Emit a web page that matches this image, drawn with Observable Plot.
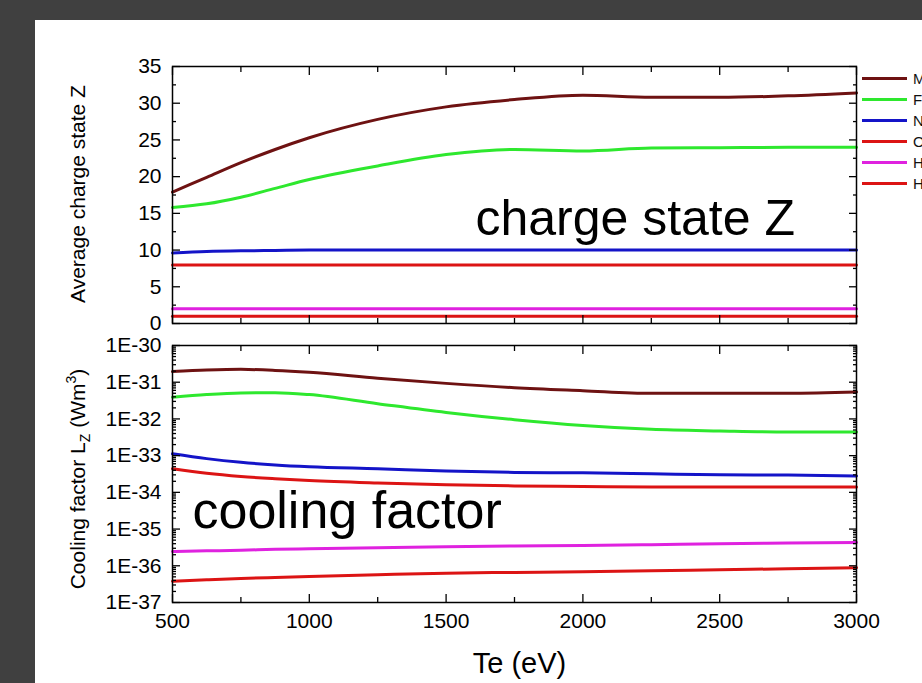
<!DOCTYPE html>
<html><head><meta charset="utf-8">
<script src="https://cdn.jsdelivr.net/npm/d3@7"></script>
<script src="https://cdn.jsdelivr.net/npm/@observablehq/plot@0.6"></script>
<style>
html,body{margin:0;padding:0;}
body{width:922px;height:683px;overflow:hidden;position:relative;background:#404040;font-family:"Liberation Sans",Arial,sans-serif;}
#panel{position:absolute;left:35px;top:20px;width:887px;height:663px;background:#fff;}
#top{position:absolute;left:0;top:40px;}
#bottom{position:absolute;left:0;top:330px;}
#legend{position:absolute;left:862px;top:68px;}
.row{height:21px;display:flex;align-items:center;white-space:nowrap;}
.sw{width:45px;height:3px;margin-right:6px;flex:none;}
.lab{font-size:15px;color:#111;}
</style></head>
<body>
<div id="panel"></div>
<div id="top"></div>
<div id="bottom"></div>
<div id="legend"></div>
<script>
// ---- data ----
const temps = [500, 625, 750, 875, 1000, 1250, 1500, 1750, 2000, 2250, 2500, 2750, 3000];
const species = ["Mo", "Fe", "Ne", "O", "He", "H"];
const colors = ["#6e1212", "#2ee82e", "#1414c8", "#dc1414", "#df22df", "#dc1414"];

// Average charge state Z
const zMo = [17.9, 19.9, 21.9, 23.7, 25.3, 27.8, 29.5, 30.5, 31.1, 30.8, 30.8, 31.0, 31.4];
const zFe = [15.8, 16.3, 17.2, 18.4, 19.6, 21.45, 23.0, 23.7, 23.5, 23.9, 23.95, 24.0, 24.0];
const zNe = [9.6, 9.8, 9.9, 9.95, 10.0, 10.0, 10.0, 10.0, 10.0, 10.0, 10.0, 10.0, 10.0];
const zO  = [7.95, 7.95, 7.95, 7.95, 7.95, 7.95, 7.95, 7.95, 7.95, 7.95, 7.95, 7.95, 7.95];
const zHe = [2.0, 2.0, 2.0, 2.0, 2.0, 2.0, 2.0, 2.0, 2.0, 2.0, 2.0, 2.0, 2.0];
const zH  = [1.0, 1.0, 1.0, 1.0, 1.0, 1.0, 1.0, 1.0, 1.0, 1.0, 1.0, 1.0, 1.0];

// Cooling factor Lz (W m^3)
const lzMo = [1.95e-31, 2.14e-31, 2.24e-31, 2.1e-31, 1.86e-31, 1.29e-31, 9.3e-32, 7.1e-32, 5.9e-32, 5.0e-32, 5.0e-32, 5.0e-32, 5.4e-32];
const lzFe = [3.9e-32, 4.6e-32, 5.1e-32, 5.2e-32, 4.6e-32, 2.6e-32, 1.5e-32, 9.5e-33, 6.6e-33, 5.2e-33, 4.7e-33, 4.4e-33, 4.4e-33];
const lzNe = [1.12e-33, 8.3e-34, 6.6e-34, 5.6e-34, 5.0e-34, 4.4e-34, 3.8e-34, 3.5e-34, 3.4e-34, 3.2e-34, 3.0e-34, 2.95e-34, 2.8e-34];
const lzO  = [4.4e-34, 3.3e-34, 2.7e-34, 2.35e-34, 2.1e-34, 1.8e-34, 1.6e-34, 1.5e-34, 1.45e-34, 1.4e-34, 1.4e-34, 1.4e-34, 1.4e-34];
const lzHe = [2.45e-36, 2.55e-36, 2.65e-36, 2.8e-36, 2.9e-36, 3.1e-36, 3.3e-36, 3.45e-36, 3.55e-36, 3.75e-36, 4.0e-36, 4.15e-36, 4.3e-36];
const lzH  = [3.8e-37, 4.15e-37, 4.5e-37, 4.8e-37, 5.1e-37, 5.7e-37, 6.3e-37, 6.6e-37, 6.9e-37, 7.3e-37, 7.8e-37, 8.3e-37, 8.9e-37];

// ticks / labels
const xTicks = [500, 1000, 1500, 2000, 2500, 3000];
const xMinorTicks = [750, 1250, 1750, 2250, 2750];
const zTicks = [0, 5, 10, 15, 20, 25, 30, 35];
const zMinorTicks = [2.5, 7.5, 12.5, 17.5, 22.5, 27.5, 32.5];
const lzTickLabels = ["1E-37", "1E-36", "1E-35", "1E-34", "1E-33", "1E-32", "1E-31", "1E-30"];
const xTitle = "Te (eV)";
const zTitle = "Average charge state Z";
const lzTitle = "Cooling factor LZ (Wm3)";
const zNote = [{t: 1607, v: 12.0, text: "charge state Z"}];
const lzNote = [{t: 573, v: 1.1e-35, text: "cooling factor"}];

// ---- build tables ----
const zSeries = [zMo, zFe, zNe, zO, zHe, zH];
const lzSeries = [lzMo, lzFe, lzNe, lzO, lzHe, lzH];
const rows = species.flatMap((s, i) => temps.map((t, j) => ({s, t, z: zSeries[i][j], lz: lzSeries[i][j]})));
const lzTicks = lzTickLabels.map(Number);
const lzMinorTicks = [];
for (let k = 0; k < lzTicks.length - 1; k++) for (let m = 2; m <= 9; m++) lzMinorTicks.push(m * lzTicks[k]);

const font = "'Liberation Sans', Arial, sans-serif";
const baseStyle = {background: "transparent", fontFamily: font, fontSize: "21px", color: "#000", overflow: "visible"};
const colorScale = {domain: species, range: colors};

function frameTicks(yMajor, yMinor) {
  const o = {fill: "none", label: null, strokeWidth: 1.3};
  return [
    Plot.axisY(yMajor, {anchor: "left", tickSize: -8, ...o}),
    Plot.axisY(yMinor, {anchor: "left", tickSize: -4, ...o}),
    Plot.axisY(yMajor, {anchor: "right", tickSize: -8, ...o}),
    Plot.axisY(yMinor, {anchor: "right", tickSize: -4, ...o}),
    Plot.axisX(xTicks, {anchor: "top", tickSize: -8, ...o}),
    Plot.axisX(xMinorTicks, {anchor: "top", tickSize: -5, ...o}),
    Plot.axisX(xTicks, {anchor: "bottom", tickSize: -8, ...o}),
    Plot.axisX(xMinorTicks, {anchor: "bottom", tickSize: -5, ...o})
  ];
}

const topPlot = Plot.plot({
  width: 922, height: 293,
  marginLeft: 172, marginRight: 66, marginTop: 26, marginBottom: 10,
  style: baseStyle,
  x: {domain: [500, 3000]},
  y: {domain: [0, 35]},
  color: colorScale,
  marks: [
    Plot.line(rows, {x: "t", y: "z", z: "s", stroke: "s", strokeWidth: 3, curve: "monotone-x"}),
    Plot.frame({stroke: "#000", strokeWidth: 1.5}),
    ...frameTicks(zTicks, zMinorTicks),
    Plot.axisY(zTicks, {anchor: "left", tickSize: 0, tickPadding: 11, label: null, fontSize: 21}),
    Plot.text([zTitle], {text: d => d, frameAnchor: "left", textAnchor: "middle", rotate: -90, dx: -94, dy: -1, fontSize: 21}),
    Plot.text(zNote, {x: "t", y: "v", text: "text", textAnchor: "start", lineAnchor: "bottom", fontSize: 50})
  ]
});

const bottomPlot = Plot.plot({
  width: 922, height: 353,
  marginLeft: 172, marginRight: 66, marginTop: 15, marginBottom: 81,
  style: baseStyle,
  x: {domain: [500, 3000]},
  y: {type: "log", domain: [1e-37, 1e-30]},
  color: colorScale,
  marks: [
    Plot.line(rows, {x: "t", y: "lz", z: "s", stroke: "s", strokeWidth: 3, curve: "monotone-x"}),
    Plot.frame({stroke: "#000", strokeWidth: 1.5}),
    ...frameTicks(lzTicks, lzMinorTicks),
    Plot.axisY(lzTicks, {anchor: "left", tickSize: 0, tickPadding: 11, label: null, fontSize: 21,
      tickFormat: d => lzTickLabels[lzTicks.indexOf(d)]}),
    Plot.axisX(xTicks, {anchor: "bottom", tickSize: 0, tickPadding: 11, label: null, fontSize: 21, tickFormat: d => String(d)}),
    Plot.text([xTitle], {text: d => d, frameAnchor: "bottom", lineAnchor: "bottom", dx: 5, dy: 70, fontSize: 29}),
    Plot.text([lzTitle], {text: d => d, frameAnchor: "left", textAnchor: "middle", rotate: -90, dx: -94, dy: 5, fontSize: 21, className: "lzlab"}),
    Plot.text(lzNote, {x: "t", y: "v", text: "text", textAnchor: "start", lineAnchor: "bottom", fontSize: 52})
  ]
});

document.getElementById("top").appendChild(topPlot);
document.getElementById("bottom").appendChild(bottomPlot);

// subscript / superscript in the cooling-factor title
d3.select(bottomPlot).selectAll("g.lzlab text").each(function() {
  const el = d3.select(this);
  el.text(null);
  el.append("tspan").text("Cooling factor L");
  el.append("tspan").attr("dy", 5).attr("font-size", 14).text("Z");
  el.append("tspan").attr("dy", -5).text(" (Wm");
  el.append("tspan").attr("dy", -9).attr("font-size", 14).text("3");
  el.append("tspan").attr("dy", 9).text(")");
});

// legend (right side, clipped by the page like the original)
const legend = d3.select("#legend");
species.forEach((s, i) => {
  const r = legend.append("div").attr("class", "row");
  r.append("div").attr("class", "sw").style("background", colors[i]);
  r.append("span").attr("class", "lab").text(s);
});
</script>
</body></html>
